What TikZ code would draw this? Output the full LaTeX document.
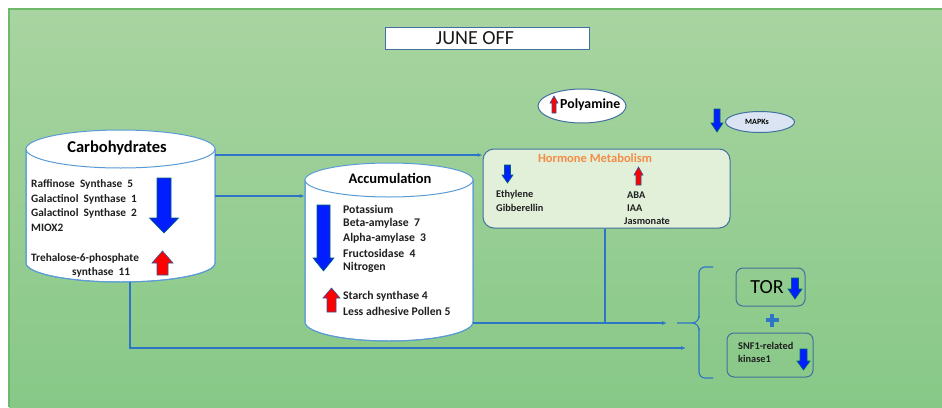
\documentclass[tikz,border=0pt]{standalone}
\usepackage{fontspec}
\setmainfont{Carlito}
\usetikzlibrary{arrows.meta,shapes.geometric}
\definecolor{bgtop}{RGB}{169,212,161}
\definecolor{bgbot}{RGB}{135,200,135}
\definecolor{bgedge}{RGB}{110,185,105}
\definecolor{linkblue}{RGB}{46,117,200}
\definecolor{cylblue}{RGB}{91,155,213}
\definecolor{boxedge}{RGB}{65,113,156}
\definecolor{hormfill}{RGB}{226,240,217}
\definecolor{hormorange}{RGB}{244,140,70}
\definecolor{arrblue}{RGB}{0,30,255}
\definecolor{arredge}{RGB}{0,100,110}
\definecolor{arrred}{RGB}{255,0,0}
\definecolor{redge}{RGB}{47,85,151}
\definecolor{mapfill}{RGB}{218,228,242}
\newcommand\BlkDown[6]{% cx, shaft w, top, head base, head W, tip
  \filldraw[fill=arrblue,draw=arredge,line width=0.6pt]
   ({#1-#2/2},-#3) -- ({#1+#2/2},-#3) -- ({#1+#2/2},-#4) -- ({#1+#5/2},-#4)
   -- (#1,-#6) -- ({#1-#5/2},-#4) -- ({#1-#2/2},-#4) -- cycle;}
\newcommand\BlkUp[6]{% cx, shaft w, bottom, head base, head W, tip
  \filldraw[fill=arrred,draw=redge,line width=0.6pt]
   ({#1-#2/2},-#3) -- ({#1+#2/2},-#3) -- ({#1+#2/2},-#4) -- ({#1+#5/2},-#4)
   -- (#1,-#6) -- ({#1-#5/2},-#4) -- ({#1-#2/2},-#4) -- cycle;}
\tikzset{
  cyl/.style={draw=cylblue,line width=1pt,fill=white},
  link/.style={draw=linkblue,line width=1.1pt,-{Latex[length=5pt,width=4pt]}},
  plain/.style={draw=linkblue,line width=1.1pt},
  itemtxt/.style={font=\fontsize{11.3}{12}\selectfont\bfseries,anchor=west,inner sep=0pt,text=black!88},
  acctxt/.style={font=\fontsize{11.7}{12}\selectfont\bfseries,anchor=west,inner sep=0pt,text=black!88},
  smalltxt/.style={font=\fontsize{10.3}{11}\selectfont\bfseries,anchor=west,inner sep=0pt,text=black!88},
  rbox/.style={draw=boxedge,line width=1pt,rounded corners=7pt,inner sep=0pt},
}
\begin{document}
\begin{tikzpicture}[x=1pt,y=1pt]
\useasboundingbox (0,0) rectangle (942,-407);
\fill[white] (0,0) rectangle (942,-407);
\shade[top color=bgtop,bottom color=bgbot] (9,-9) rectangle (942,-407);
\draw[bgedge,line width=1.2pt] (9,-407) -- (9,-9) -- (942,-9);

% title
\node[draw=boxedge,line width=1pt,fill=white,minimum width=204pt,minimum height=22pt,inner sep=0pt] (title) at (487,-38) {};
\node[font=\fontsize{20}{21}\selectfont,inner sep=0pt,text=black!90] (titletxt) at (475,-38.5) {JUNE OFF};

% polyamine
\node[ellipse,draw=boxedge,line width=1pt,fill=white,minimum width=88pt,minimum height=34pt,inner sep=0pt] (poly) at (582,-106) {};
\node[font=\fontsize{13.8}{14}\selectfont\bfseries,anchor=west,inner sep=0pt] (polytxt) at (560,-105) {Polyamine};
\BlkUp{554}{4}{113}{103}{8}{96}

% MAPKs
\node[ellipse,draw=boxedge,line width=1pt,fill=mapfill,minimum width=69pt,minimum height=21pt,inner sep=0pt] (mapk) at (760,-122) {};
\node[font=\fontsize{8}{9}\selectfont\bfseries,inner sep=0pt] (mapktxt) at (757,-122) {MAPKs};
\BlkDown{717}{6}{109}{123}{12}{132}

% Carbohydrates cylinder
\path[cyl] (26,-149) -- (26,-263) arc[start angle=180,end angle=360,x radius=94.5,y radius=19] -- (215,-149) -- cycle;
\draw[cylblue,line width=1pt] (26,-149) -- (26,-263) arc[start angle=180,end angle=360,x radius=94.5,y radius=19] -- (215,-149);
\draw[cyl] (120.5,-149) ellipse[x radius=94.5,y radius=19];
\node[inner sep=0pt,minimum width=189pt,minimum height=152pt] (carb) at (120.5,-206) {};
\node[font=\fontsize{16.5}{17}\selectfont\bfseries,inner sep=0pt] (carbtitle) at (117,-148) {Carbohydrates};
\node[itemtxt] (c1) at (31,-184) {Raffinose\ \ Synthase\ \ 5};
\node[itemtxt] (c2) at (31,-199) {Galactinol\ \ Synthase\ \ 1};
\node[itemtxt] (c3) at (31,-213) {Galactinol\ \ Synthase\ \ 2};
\node[itemtxt] (c4) at (31,-228) {MIOX2};
\node[itemtxt] (c5) at (31,-258) {Trehalose-6-phosphate};
\node[itemtxt] (c6) at (72,-272) {synthase\ \ 11};
\BlkDown{164}{14}{178}{218}{29}{233}
\BlkUp{162.5}{11}{275}{263}{21}{251}

% Accumulation cylinder
\path[cyl] (305,-180) -- (305,-322) arc[start angle=180,end angle=360,x radius=84,y radius=19] -- (473,-180) -- cycle;
\draw[cylblue,line width=1pt] (305,-180) -- (305,-322) arc[start angle=180,end angle=360,x radius=84,y radius=19] -- (473,-180);
\draw[cyl] (389,-180) ellipse[x radius=84,y radius=17];
\node[inner sep=0pt,minimum width=168pt,minimum height=178pt] (acc) at (389,-252) {};
\node[font=\fontsize{14.5}{15}\selectfont\bfseries,inner sep=0pt] (acctitle) at (390,-178) {Accumulation};
\node[acctxt] (a1) at (343,-209) {Potassium};
\node[acctxt] (a2) at (343,-223) {Beta-amylase\ \ 7};
\node[acctxt] (a3) at (343,-238) {Alpha-amylase\ \ 3};
\node[acctxt] (a4) at (343,-253) {Fructosidase\ \ 4};
\node[acctxt] (a5) at (343,-267) {Nitrogen};
\node[acctxt] (a6) at (343,-296) {Starch synthase 4};
\node[acctxt] (a7) at (343,-311) {Less adhesive Pollen 5};
\BlkDown{323.5}{13}{205}{258}{21}{271}
\BlkUp{331.5}{9}{312}{298}{17}{288}

% Hormone metabolism
\node[draw=boxedge,line width=1pt,fill=hormfill,rounded corners=11pt,minimum width=247pt,minimum height=79pt,inner sep=0pt] (horm) at (606.5,-188.5) {};
\node[font=\fontsize{12.5}{13}\selectfont\bfseries,text=hormorange,inner sep=0pt] (hormtitle) at (595,-158) {Hormone Metabolism};
\node[smalltxt] (h1) at (496,-195) {Ethylene};
\node[smalltxt] (h2) at (496,-208) {Gibberellin};
\node[smalltxt] (h3) at (627,-195) {ABA};
\node[smalltxt] (h4) at (627,-208) {IAA};
\node[smalltxt] (h5) at (624,-221) {Jasmonate};
\BlkDown{507.5}{6}{165}{175}{11}{183}
\BlkUp{638.5}{5}{185}{175}{9}{167}

% TOR and SNF1
\node[rbox,minimum width=69pt,minimum height=38pt] (tor) at (770.5,-287) {};
\node[font=\fontsize{20}{21}\selectfont,inner sep=0pt] (tortxt) at (767,-287.5) {TOR};
\BlkDown{795}{7}{278}{289}{14}{299}
\node[rbox,minimum width=86pt,minimum height=44pt] (snf) at (770,-355) {};
\node[smalltxt] (s1) at (738,-346) {SNF1-related};
\node[smalltxt] (s2) at (738,-359) {kinase1};
\BlkDown{803.5}{7}{349}{361}{13}{370}
\coordinate (plus) at (772,-320);
\draw[linkblue,line width=4pt] ([xshift=-6.5pt]plus) -- ([xshift=6.5pt]plus);
\draw[linkblue,line width=4pt] ([yshift=-6.5pt]plus) -- ([yshift=6.5pt]plus);

% brace
\coordinate (brtop) at (713,-267);
\coordinate (brbot) at (713,-378);
\coordinate (brtip) at (677,-323);
\draw[linkblue,line width=1.1pt,rounded corners=6pt] (brtop) -- (699,-267) -- (699,-318);
\draw[linkblue,line width=1.1pt,rounded corners=6pt] (brbot) -- (699,-378) -- (699,-328);
\draw[linkblue,line width=1.1pt] (699,-316) to[out=-90,in=0] (692,-323) -- (brtip);
\draw[linkblue,line width=1.1pt] (699,-330) to[out=90,in=0] (692,-323);

% connectors
\coordinate (accEnd) at (667,-323);
\coordinate (carbEnd) at (686,-348);
\draw[link] (carb.east |- 0,-155) -- (horm.west |- 0,-155);
\draw[link] (carb.east |- 0,-196) -- (acc.west |- 0,-196);
\draw[link] (acc.east |- 0,-323) -- (accEnd);
\draw[plain] (horm.south -| 605,0) -- (605,-323);
\draw[link] (carb.south -| 130,0) -- (130,-348) -- (carbEnd);
\end{tikzpicture}
\end{document}
